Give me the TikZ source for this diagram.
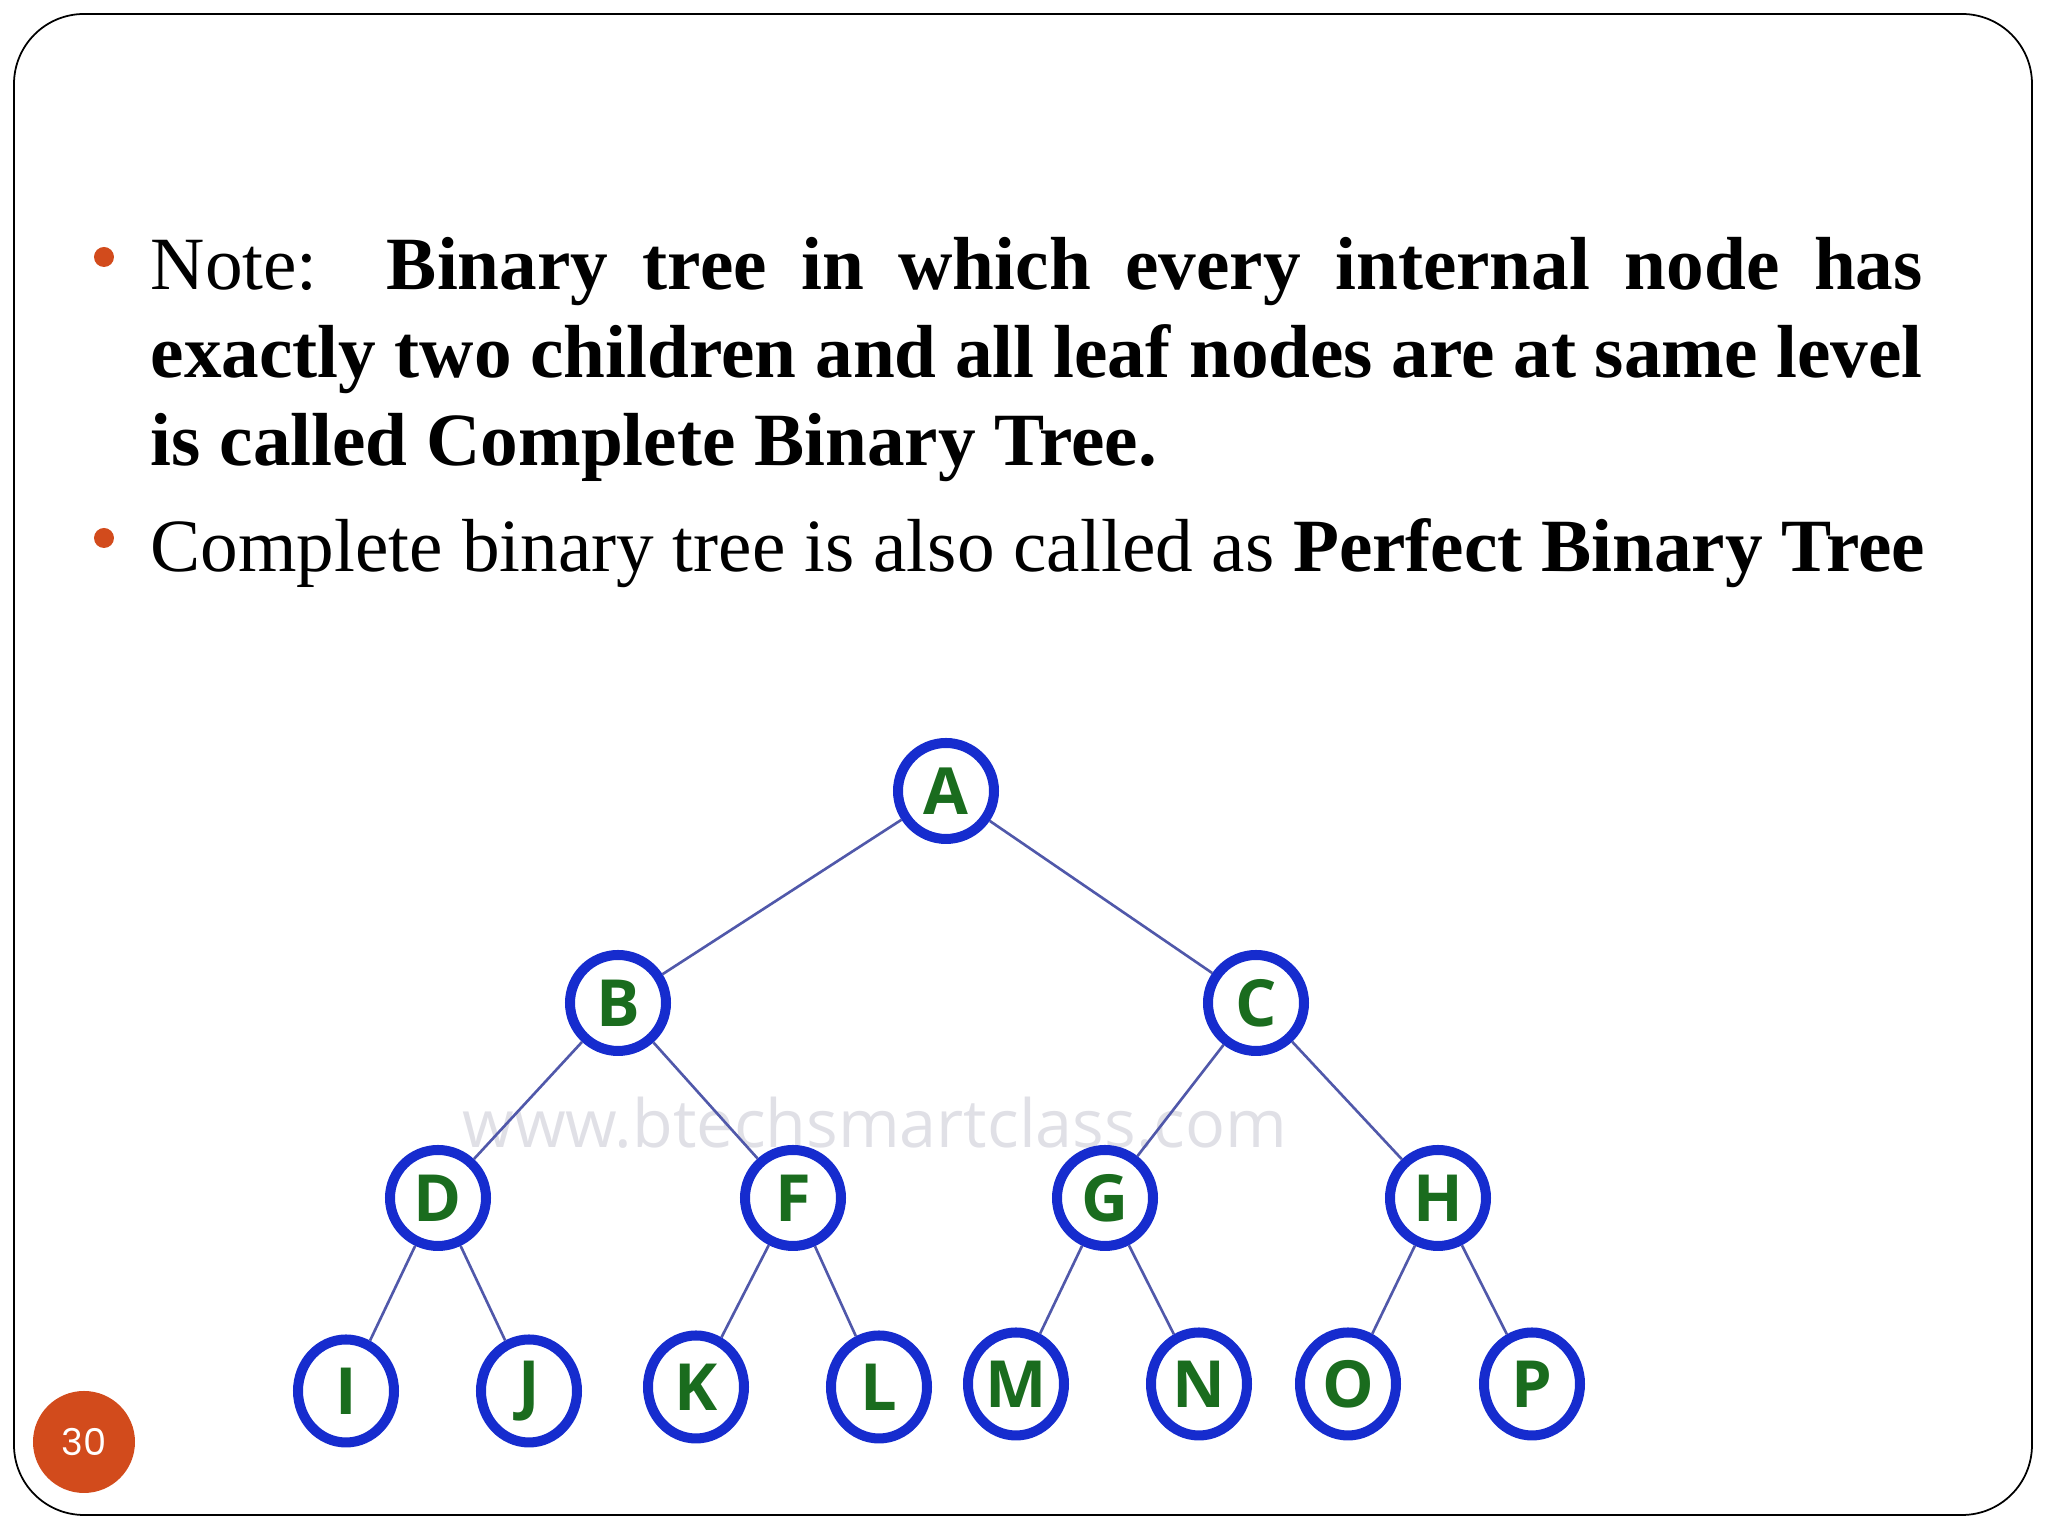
\documentclass[tikz,border=0pt]{standalone}
\usepackage{fontspec}
\setmainfont{Liberation Serif}
\newfontfamily\labelfont{Open Sans}
\newfontfamily\numfont{Poppins}
\usepackage{xcolor}
\usepackage{tikz}
\usetikzlibrary{shapes.geometric, positioning}
\definecolor{slideorange}{RGB}{210,75,28}
\definecolor{treeblue}{RGB}{22,44,206}
\definecolor{treegreen}{RGB}{26,108,30}
\definecolor{edgeblue}{RGB}{80,88,170}
\definecolor{markgray}{RGB}{224,224,230}
\tikzset{
  treenode/.style = {circle, draw=treeblue, line width=2.85pt, minimum size=0.96cm,
                     inner sep=0pt, text=treegreen, font=\labelfont\bfseries\fontsize{18.5}{20}\selectfont},
  leafnode/.style = {ellipse, draw=treeblue, line width=2.85pt, minimum width=0.96cm,
                     minimum height=1.03cm, inner sep=0pt, text=treegreen,
                     font=\labelfont\bfseries\fontsize{18.5}{20}\selectfont},
  edge/.style     = {draw=edgeblue, line width=0.75pt},
  bulletdot/.style = {circle, fill=slideorange, minimum size=0.2cm, inner sep=0pt},
  para/.style     = {anchor=base west, inner sep=0pt, font=\fontsize{21.4}{25}\selectfont},
}

\begin{document}
\begin{tikzpicture}
    \useasboundingbox (0,0) rectangle (20.48,15.36);

    %% Slide frame and page number
    \draw[line width=0.5pt, rounded corners=0.7cm] (0.14,0.21) rectangle (20.32,15.22);
    \node[circle, fill=slideorange, minimum size=1.02cm, inner sep=0pt, text=white,
          font=\numfont\fontsize{10.5}{12}\selectfont] (pageno) at (0.84,0.94) {30};

    %% Bullet text
    \node[bulletdot] (dot1) at (1.04,12.79) {};
    \node[para, text width=17.72cm, align=justify] (note) at (1.50,12.46)
      {Note:\ \ \textbf{Binary tree in which every internal node has}\linebreak
       \textbf{exactly two children and all leaf nodes are at same level}\linebreak
       \textbf{is called Complete Binary Tree.}};
    \node[bulletdot] (dot2) at (1.04,9.98) {};
    \node[para] (perfect) at (1.50,9.64)
      {Complete binary tree is also called as \textbf{Perfect Binary Tree}};

    %% Watermark
    \node[text=markgray, font=\labelfont\fontsize{18.9}{20}\selectfont] (mark) at (8.75,4.13)
      {www.btechsmartclass.com};

    %% Levels 0-2
    \node[treenode] (a) at ( 9.46, 7.45) {A};
    \node[treenode] (b) at ( 6.18, 5.33) {B};
    \node[treenode] (c) at (12.56, 5.33) {C};
    \node[treenode] (d) at ( 4.38, 3.38) {D};
    \node[treenode] (f) at ( 7.93, 3.38) {F};
    \node[treenode] (g) at (11.05, 3.38) {G};
    \node[treenode] (h) at (14.38, 3.38) {H};

    %% Leaves
    \node[leafnode] (i) at ( 3.46, 1.45) {I};
    \node[leafnode] (j) at ( 5.29, 1.45) {J};
    \node[leafnode] (k) at ( 6.96, 1.49) {K};
    \node[leafnode] (l) at ( 8.79, 1.49) {L};
    \node[leafnode] (m) at (10.16, 1.52) {M};
    \node[leafnode] (n) at (11.99, 1.52) {N};
    \node[leafnode] (o) at (13.48, 1.52) {O};
    \node[leafnode] (p) at (15.32, 1.52) {P};

    %% Edges
    \draw[edge] (a) -- (b);
    \draw[edge] (a) -- (c);
    \draw[edge] (b) -- (d);
    \draw[edge] (b) -- (f);
    \draw[edge] (c) -- (g);
    \draw[edge] (c) -- (h);
    \draw[edge] (d) -- (i);
    \draw[edge] (d) -- (j);
    \draw[edge] (f) -- (k);
    \draw[edge] (f) -- (l);
    \draw[edge] (g) -- (m);
    \draw[edge] (g) -- (n);
    \draw[edge] (h) -- (o);
    \draw[edge] (h) -- (p);

\end{tikzpicture}
\end{document}
